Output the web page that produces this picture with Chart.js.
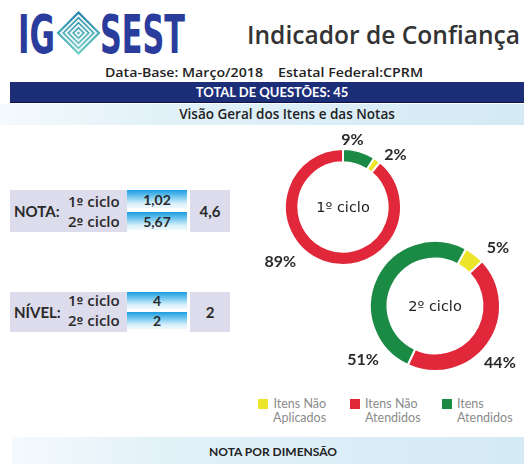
<!DOCTYPE html>
<html>
<head>
<meta charset="utf-8">
<script src="https://cdn.jsdelivr.net/npm/chart.js@4.4.1/dist/chart.umd.min.js"></script>
<style>
  html, body { margin: 0; padding: 0; }
  body { width: 524px; height: 464px; overflow: hidden; position: relative; background: #fff; font-family: Lato, 'Open Sans', sans-serif; color: #222; }
  .abs { position: absolute; }
  .bar-navy { left: 10px; top: 82px; width: 514px; height: 20px; background: #1d2e78; border-bottom: 1px solid #0c1440; color: #fff; font-weight: bold; font-size: 13px; text-align: center; line-height: 20px; }
  .band { background: linear-gradient(to right, #f4fafd 0%, #e2f1f8 30%, #d4eaf5 100%); text-align: center; color: #222; }
  .lav { background: #dcdcec; }
  .cell { background: linear-gradient(to bottom, #1b9de0 0%, #6cc4ee 35%, #d9f0fa 75%, #eef8fd 100%); text-align: center; font-size: 14px; font-weight: bold; color: #2a2a2a; }
  .lbl { font-size: 15px; font-weight: bold; color: #2a2a2a; }
  .cic { font-family: 'Open Sans', sans-serif; font-size: 15px; font-weight: 600; color: #2a2a2a; }
  .ord { font-family: 'DejaVu Sans', sans-serif; font-size: 12px; font-weight: bold; }
  .leg { font-size: 12.5px; color: #8c8c8c; line-height: 14px; }
  .sq { width: 10px; height: 10px; }
</style>
</head>
<body>

<svg class="abs" style="left:0;top:0" width="524" height="80">
  <defs>
    <linearGradient id="dg" x1="0" y1="0" x2="1" y2="1">
      <stop offset="0" stop-color="#1f7fa8"/>
      <stop offset="1" stop-color="#6fd0c4"/>
    </linearGradient>
  </defs>
  <text x="18" y="53" font-family="'Liberation Sans Narrow', 'DejaVu Sans Condensed', sans-serif" font-weight="bold" font-size="54" fill="#2a3c9c" textLength="37" lengthAdjust="spacingAndGlyphs">IG</text>
  <g transform="translate(78.5,33) rotate(45)" fill="none" stroke-width="2">
    <rect x="-15.5" y="-15.5" width="31" height="31" fill="url(#dg)" stroke="none"/>
    <rect x="-12.5" y="-12.5" width="25" height="25" stroke="#e8f6f6"/>
    <rect x="-9" y="-9" width="18" height="18" stroke="#e8f6f6"/>
    <rect x="-5.5" y="-5.5" width="11" height="11" stroke="#e8f6f6"/>
    <rect x="-2" y="-2" width="4" height="4" stroke="#e8f6f6"/>
  </g>
  <text x="100" y="53" font-family="'Liberation Sans Narrow', 'DejaVu Sans Condensed', sans-serif" font-weight="bold" font-size="54" fill="#2a3c9c" textLength="85" lengthAdjust="spacingAndGlyphs">SEST</text>
  <text x="247" y="44" font-family="'Open Sans', sans-serif" font-weight="600" font-size="26" fill="#333" textLength="273" lengthAdjust="spacingAndGlyphs">Indicador de Confiança</text>
  <text x="105" y="77" font-family="'Open Sans', sans-serif" font-weight="600" font-size="13" fill="#222" textLength="158" lengthAdjust="spacingAndGlyphs">Data-Base: Março/2018</text>
  <text x="278" y="77" font-family="'Open Sans', sans-serif" font-weight="600" font-size="13" fill="#222" textLength="145" lengthAdjust="spacingAndGlyphs">Estatal Federal:CPRM</text>
</svg>

<div class="abs bar-navy"><span style="position:relative;left:5px">TOTAL DE QUESTÕES: 45</span></div>
<div class="abs band" style="left:0;top:104px;width:524px;height:21px;line-height:21px;font-size:13.5px;font-family:'Open Sans',sans-serif;font-weight:600"><span style="position:relative;left:25px">Visão Geral dos Itens e das Notas</span></div>

<!-- NOTA -->
<div class="abs lav" style="left:10px;top:190px;width:117px;height:42px"></div>
<div class="abs lbl" style="left:14px;top:202px">NOTA:</div>
<div class="abs cic" style="left:68px;top:191px">1<span class="ord">º</span> ciclo</div>
<div class="abs cic" style="left:68px;top:211px">2<span class="ord">º</span> ciclo</div>
<div class="abs cell" style="left:127px;top:190px;width:60px;height:18px;line-height:19px" id="n1"></div>
<div class="abs cell" style="left:127px;top:212px;width:60px;height:18px;line-height:19px" id="n2"></div>
<div class="abs lav" style="left:190px;top:190px;width:40px;height:42px;line-height:42px;text-align:center;font-size:15px;font-weight:bold;color:#2a2a2a" id="nt"></div>

<!-- NIVEL -->
<div class="abs lav" style="left:10px;top:292px;width:117px;height:40px"></div>
<div class="abs lbl" style="left:14px;top:303px">NÍVEL:</div>
<div class="abs cic" style="left:68px;top:290px">1<span class="ord">º</span> ciclo</div>
<div class="abs cic" style="left:68px;top:310px">2<span class="ord">º</span> ciclo</div>
<div class="abs cell" style="left:127px;top:292px;width:60px;height:17px;line-height:18px" id="v1"></div>
<div class="abs cell" style="left:127px;top:312px;width:60px;height:17px;line-height:18px" id="v2"></div>
<div class="abs lav" style="left:190px;top:292px;width:40px;height:40px;line-height:40px;text-align:center;font-size:15px;font-weight:bold;color:#2a2a2a" id="vt"></div>

<canvas id="c1" class="abs" style="left:253px;top:127px" width="180" height="160"></canvas>
<canvas id="c2" class="abs" style="left:345px;top:226px" width="180" height="160"></canvas>

<div id="legend"></div>

<div class="abs band" style="left:12px;top:437px;width:512px;height:27px;line-height:30px;font-size:12px;font-weight:bold;"><span style="position:relative;left:5px">NOTA POR DIMENSÃO</span></div>

<script>
// categories as in the legend
var categories = ['Itens Não Aplicados', 'Itens Não Atendidos', 'Itens Atendidos'];
var legendLines = [['Itens Não', 'Aplicados'], ['Itens Não', 'Atendidos'], ['Itens', 'Atendidos']];
var colors = ['#ece52a', '#e0283a', '#1b8a45'];

// percentages per cycle (same order as categories)
var ciclo1 = [2, 89, 9];
var ciclo2 = [5, 44, 51];
var cicloNames = ['1º ciclo', '2º ciclo'];

// notas / níveis
var notas = ['1,02', '5,67'];
var notaTotal = '4,6';
var niveis = ['4', '2'];
var nivelTotal = '2';

document.getElementById('n1').textContent = notas[0];
document.getElementById('n2').textContent = notas[1];
document.getElementById('nt').textContent = notaTotal;
document.getElementById('v1').textContent = niveis[0];
document.getElementById('v2').textContent = niveis[1];
document.getElementById('vt').textContent = nivelTotal;

// draws the % labels around the ring + the text in the middle
var ringLabels = {
  id: 'ringLabels',
  afterDraw: function (chart, args, opts) {
    var ctx = chart.ctx;
    var arc = chart.getDatasetMeta(0).data[0];
    var cx = arc.x, cy = arc.y;
    ctx.save();
    ctx.fillStyle = '#222';
    ctx.textAlign = 'center';
    ctx.textBaseline = 'middle';
    ctx.font = '14.5px "DejaVu Sans", sans-serif';
    ctx.fillText(opts.title, cx, cy + 1);
    ctx.fillStyle = '#2a2a2a';
    ctx.font = 'bold 16px Lato, sans-serif';
    chart.data.datasets[0].data.forEach(function (v, i) {
      var a = (opts.angles[i] - 90) * Math.PI / 180;
      var d = opts.dists[i];
      ctx.fillText(v + '%', cx + Math.cos(a) * d, cy + Math.sin(a) * d);
    });
    ctx.restore();
  }
};

function makeRing(id, values, title, rotation, radius, cutout, angles, dists) {
  return new Chart(document.getElementById(id), {
    type: 'doughnut',
    data: {
      labels: categories,
      datasets: [{
        data: values,
        backgroundColor: colors,
        borderColor: '#ffffff',
        borderWidth: 2
      }]
    },
    options: {
      responsive: false,
      animation: false,
      rotation: rotation,
      radius: radius,
      cutout: cutout,
      plugins: {
        legend: { display: false },
        tooltip: { enabled: false },
        ringLabels: { title: title, angles: angles, dists: dists }
      }
    },
    plugins: [ringLabels]
  });
}

makeRing('c1', ciclo1, cicloNames[0], 32.4, 58, '77%', [45, 229, 8], [74, 83, 68]);
makeRing('c2', ciclo2, cicloNames[1], 28.4, 65, '73%', [47, 131, 233], [86, 86, 90]);

// legend
var legendX = [258, 350, 442];
var leg = document.getElementById('legend');
categories.forEach(function (c, i) {
  var sq = document.createElement('div');
  sq.className = 'abs sq';
  sq.style.left = legendX[i] + 'px';
  sq.style.top = '399px';
  sq.style.background = colors[i];
  leg.appendChild(sq);
  var t = document.createElement('div');
  t.className = 'abs leg';
  t.style.left = (legendX[i] + 15) + 'px';
  t.style.top = '397px';
  t.style.textAlign = i === 0 ? 'right' : 'left';
  t.innerHTML = legendLines[i].join('<br>');
  leg.appendChild(t);
});
</script>
</body>
</html>
